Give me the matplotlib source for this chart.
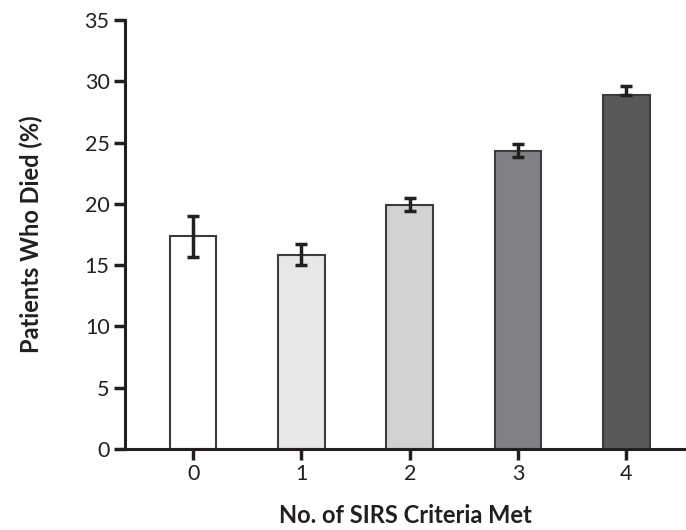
import matplotlib.pyplot as plt
import numpy as np

criteria = ['0', '1', '2', '3', '4']
died_pct = [17.4, 15.8, 19.9, 24.3, 28.9]
err_low = [15.7, 15.0, 19.4, 23.8, 28.9]
err_high = [19.0, 16.7, 20.5, 24.9, 29.6]
bar_colors = ['#ffffff', '#e6e7e8', '#d1d2d4', '#808184', '#58595b']

plt.rcParams['font.family'] = ['Lato', 'DejaVu Sans']

fig = plt.figure(figsize=(6.86, 5.3), dpi=100)
ax = fig.add_axes([0.182, 0.153, 0.818, 0.809])

x = np.arange(len(criteria))
vals = np.array(died_pct)
lo = vals - np.array(err_low)
hi = np.array(err_high) - vals

ax.bar(x, vals, width=0.43, color=bar_colors, edgecolor='#3c3c3c', linewidth=1.5, zorder=2)
ax.errorbar(x, vals, yerr=[lo, hi], fmt='none', ecolor='#231f20', elinewidth=2.5,
            capsize=4.5, capthick=2.5, zorder=3)

ax.set_ylim(0, 35)
ax.set_xlim(-0.63, 4.55)
ax.set_yticks(range(0, 36, 5))
ax.set_xticks(x)
ax.set_xticklabels(criteria)

for s in ['top', 'right']:
    ax.spines[s].set_visible(False)
for s in ['left', 'bottom']:
    ax.spines[s].set_linewidth(2.2)
    ax.spines[s].set_color('#231f20')

ax.tick_params(axis='both', direction='out', length=8, width=2.5, color='#231f20',
               labelsize=15.5, labelcolor='#231f20', pad=3)

ax.set_ylabel('Patients Who Died (%)', fontsize=17, fontweight='bold', color='#231f20', labelpad=30)
ax.set_xlabel('No. of SIRS Criteria Met', fontsize=17, fontweight='bold', color='#231f20', labelpad=14)

fig.savefig('out.png', dpi=100)
